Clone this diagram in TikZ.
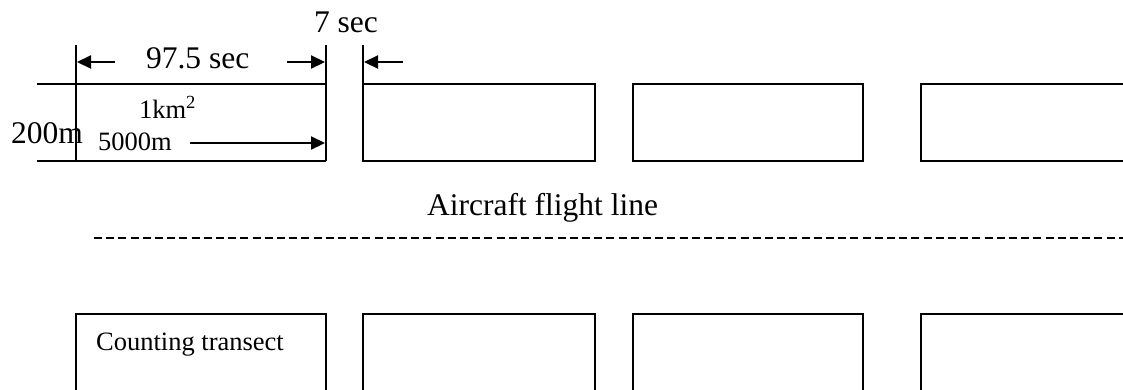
\documentclass[tikz,border=0pt]{standalone}
\usepackage{fontspec}
\setmainfont{Liberation Serif}
\usetikzlibrary{arrows.meta}
\begin{document}
\begin{tikzpicture}[x=1pt,y=-1pt,line width=2.2pt,
  box/.style={draw,line width=2.2pt,minimum width=#1,minimum height=77pt,inner sep=0pt,outer sep=0pt,anchor=north west},
  tallbox/.style={box=#1,minimum height=120pt},
  big/.style={font=\fontsize{31.5}{36}\selectfont,inner sep=0pt,anchor=base west},
  small/.style={font=\fontsize{26.5}{30}\selectfont,inner sep=0pt,anchor=base west},
  dimarrow/.style={-{Triangle[length=14pt,width=13pt]},line width=2.2pt},
  flightline/.style={line width=2.2pt,dash pattern=on 8pt off 4.2pt}]
\clip (0,0) rectangle (1123,389);
% first top transect with extension lines
\coordinate (a1) at (37,84);
\coordinate (a2) at (326,84);
\coordinate (a3) at (37,161);
\coordinate (a4) at (326,161);
\coordinate (v1t) at (76,45);
\coordinate (v1b) at (76,161);
\coordinate (v2t) at (326,45);
\coordinate (v3t) at (363,45);
\draw (a1) -- (a2);
\draw (a3) -- (a4);
\draw (v1t) -- (v1b);
\draw (v2t) -- (a4);
% other top transects
\node[box=232pt] (t2) at (363,84) {};
\node[box=230pt] (t3) at (633,84) {};
\node[box=260pt] (t4) at (921,84) {};
\draw (v3t) -- (t2.north west);
% bottom transects
\node[tallbox=250pt] (b1) at (76,314) {};
\node[tallbox=232pt] (b2) at (363,314) {};
\node[tallbox=230pt] (b3) at (633,314) {};
\node[tallbox=260pt] (b4) at (921,314) {};
% flight line
\coordinate (f1) at (94,238);
\coordinate (f2) at (1123,238);
\draw[flightline] (f1) -- (f2);
% labels
\node[big] (sec97) at (145,68) {97.5 sec};
\node[big] (sec7) at (313,32) {7 sec};
\node[big] (h200) at (10,143) {200m};
\node[small] (km) at (138,118) {1km\textsuperscript{2}};
\node[small] (len) at (97,150) {5000m};
\node[big] (flight) at (426,215) {Aircraft flight line};
\node[small] (count) at (95,350) {Counting transect};
% dimension arrows
\coordinate (d1s) at (115,62);
\coordinate (d1e) at (77,62);
\coordinate (d2s) at (287,62);
\coordinate (d2e) at (325,62);
\coordinate (d3s) at (403,62);
\coordinate (d3e) at (364,62);
\coordinate (d4s) at (190,143);
\coordinate (d4e) at (325,143);
\draw[dimarrow] (d1s) -- (d1e);
\draw[dimarrow] (d2s) -- (d2e);
\draw[dimarrow] (d3s) -- (d3e);
\draw[dimarrow] (d4s) -- (d4e);
\end{tikzpicture}
\end{document}
